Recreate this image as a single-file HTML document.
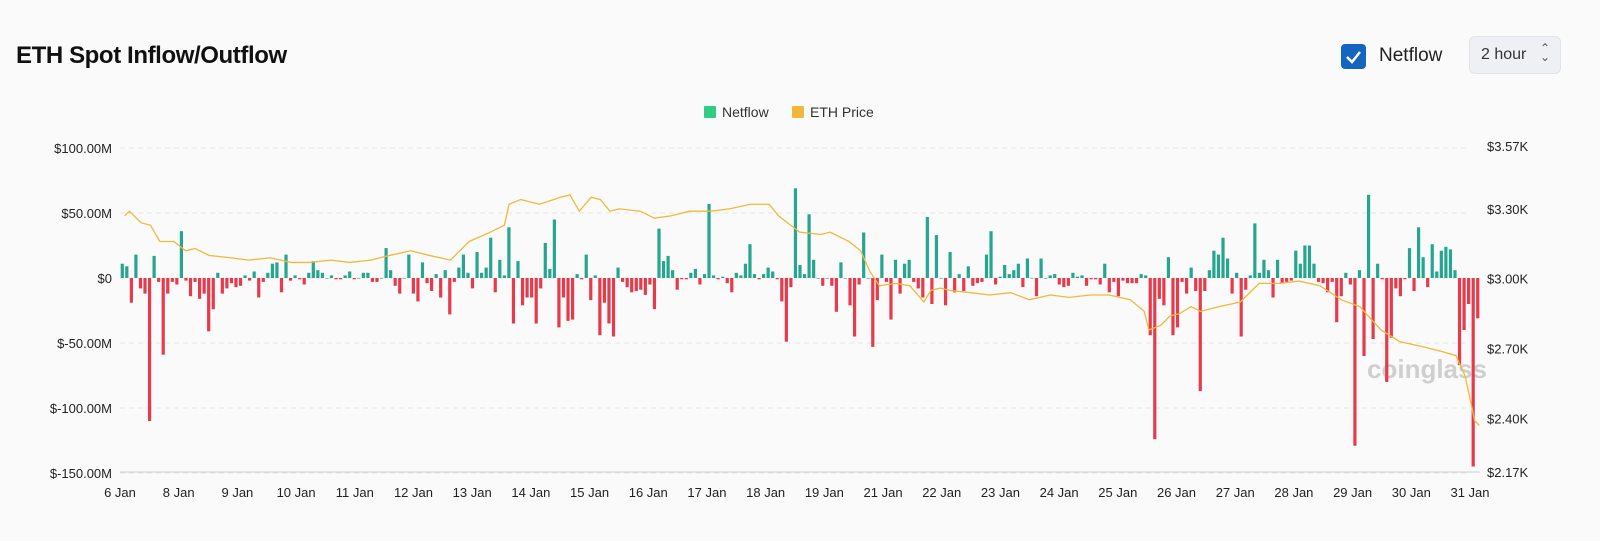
<!DOCTYPE html>
<html><head><meta charset="utf-8"><style>
body{margin:0;width:1600px;height:541px;background:#fafafa;font-family:"Liberation Sans",sans-serif;overflow:hidden;position:relative}
.title{position:absolute;left:16px;top:42px;font-size:24px;font-weight:bold;color:#111;letter-spacing:-0.4px}
.cb{position:absolute;left:1341px;top:44px;width:25px;height:25px;background:#1565c0;border-radius:4px}
.nf{position:absolute;left:1379px;top:45px;font-size:19px;color:#222}
.sel{position:absolute;left:1469px;top:36px;width:92px;height:38px;background:#eef0f3;border:1px solid #e0e3e8;border-radius:6px;box-sizing:border-box;font-size:16px;color:#333;padding:9px 0 0 11px}
</style></head><body>
<div class="title">ETH Spot Inflow/Outflow</div>
<div class="cb"><svg width="25" height="25"><path d="M6 13 L11 18 L19 8" stroke="#fff" stroke-width="2.5" fill="none"/></svg></div>
<div class="nf">Netflow</div>
<div class="sel">2 hour <span style="position:absolute;left:70px;top:7px;font-size:12px;line-height:9px;color:#555">&#8963;<br>&#8964;</span></div>
<svg id="chart" width="1600" height="541" style="position:absolute;left:0;top:0"></svg>
<script>
const netflow=[11,9,-19,18,-8,-12,-110,17,-3,-59,-12,-3,-5,36,-2,-14,-3,-16,-12,-41,-24,4,-12,-8,-4,-7,-6,2,-2,5,-15,-3,4,11,12,-11,18,-2,2,-1,-5,4,13,6,4,0,2,-1,-1,2,5,-1,0,4,4,-3,-3,0,23,
6,-6,-12,0,18,-12,-18,12,-4,-10,3,-15,6,-28,-3,8,18,4,-8,20,4,8,31,-11,14,2,39,-35,13,-21,-15,-15,-35,-8,27,7,45,-38,-15,-33,-32,3,-1,18,-17,2,-44,-19,-35,-45,8,-3,-7,-11,-10,-9,-13,-5,-24,
38,13,17,6,-9,-1,-1,4,7,-5,3,57,2,-1,1,-4,-11,4,2,11,26,3,-1,3,8,5,-1,-18,-49,-7,69,10,3,49,14,0,-6,0,-6,-26,12,0,-21,-45,-5,35,0,-53,-17,18,-3,-32,14,-12,11,14,-3,-8,-15,47,
-20,33,0,-21,20,-11,3,-10,9,-6,-4,-3,18,36,-5,1,10,3,6,11,-7,15,0,-14,15,0,2,3,-5,-7,-6,4,1,2,-6,-1,-1,-5,11,-11,-3,-14,-2,-4,-4,-4,3,2,-44,-124,-16,-21,16,-44,-38,-3,-12,8,-10,
-87,-10,6,21,18,31,15,-12,4,-45,-9,2,42,4,14,6,-15,14,-4,-3,-2,21,11,25,25,11,-3,-4,-11,-3,-34,-14,4,-5,-129,6,-60,64,-47,11,-1,-80,-46,-8,-14,-1,23,-10,39,16,-7,26,5,21,24,22,6,-67,-40,-20,-145,-31];
const priceHour=[2,4,9,13,17,23,28,32,38,47,55,64,73,81,90,98,107,115,124,132,141,149,158,164,166,171,179,188,192,196,201,205,209,213,222,228,235,243,252,260,269,277,281,290,299,303,311,316,320,324,331,337,343,346,350,354,363,371,380,388,397,405,414,422,431,437,439,444,448,452,457,461,469,478,486,495,503,512,521,529,538,546,555,563,570,574,578,580];
const priceVal=[3.27,3.29,3.24,3.23,3.16,3.16,3.12,3.13,3.10,3.09,3.08,3.09,3.07,3.07,3.08,3.07,3.08,3.10,3.12,3.10,3.08,3.16,3.20,3.23,3.32,3.34,3.32,3.35,3.36,3.29,3.35,3.34,3.29,3.30,3.29,3.26,3.27,3.29,3.29,3.30,3.32,3.32,3.27,3.20,3.19,3.20,3.16,3.12,3.03,2.97,2.98,2.97,2.90,2.95,2.96,2.95,2.94,2.93,2.94,2.91,2.93,2.92,2.93,2.93,2.91,2.86,2.78,2.80,2.84,2.85,2.88,2.86,2.88,2.90,2.98,2.98,2.99,2.97,2.91,2.88,2.78,2.73,2.71,2.69,2.67,2.58,2.39,2.37];
const dateLabels=["6 Jan","8 Jan","9 Jan","10 Jan","11 Jan","12 Jan","13 Jan","14 Jan","15 Jan","16 Jan","17 Jan","18 Jan","19 Jan","21 Jan","22 Jan","23 Jan","24 Jan","25 Jan","26 Jan","27 Jan","28 Jan","29 Jan","30 Jan","31 Jan"];
const leftTicks=[100,50,0,-50,-100,-150];
const leftTickLabels=["$100.00M","$50.00M","$0","$-50.00M","$-100.00M","$-150.00M"];
const rightTicks=[3.57,3.30,3.00,2.70,2.40,2.17];
const rightTickLabels=["$3.57K","$3.30K","$3.00K","$2.70K","$2.40K","$2.17K"];

const NS="http://www.w3.org/2000/svg",svg=document.getElementById('chart');
const X0=120,X1=1470,BX1=1480,Y0=278;
const yL=v=>Y0-v*1.3;
const yR=p=>472-(p-2.17)*(326/1.4);
const xH=h=>X0+h*56.25/24;
function mk(t,a){const e=document.createElementNS(NS,t);for(const k in a)e.setAttribute(k,a[k]);svg.appendChild(e);return e;}
leftTicks.forEach((v,i)=>{
  const g=mk('line',{x1:X0,x2:X1,y1:yL(v),y2:yL(v),stroke:'#e6e6e6','stroke-dasharray':'5,4'});
  
  
  const t=mk('text',{x:112,y:yL(v)+5,'text-anchor':'end','font-size':13,fill:'#222'});t.textContent=leftTickLabels[i];
  
  
});
rightTicks.forEach((p,i)=>{
  const t=mk('text',{x:1487,y:yR(p)+5,'font-size':13,fill:'#222'});t.textContent=rightTickLabels[i];
  
  
});
const ax=mk('line',{x1:X0,x2:X1+10,y1:472,y2:472,stroke:'#ccc'});


dateLabels.forEach((d,i)=>{
  const x=X0+i*(X1-X0)/(dateLabels.length-1);
  const t=mk('text',{x:x,y:497,'text-anchor':'middle','font-size':13,fill:'#222'});t.textContent=d;
  
  
});
const wm=mk('text',{x:1367,y:378,'font-size':26,fill:'#cfcfcf','font-weight':'bold'});wm.textContent='coinglass';


const band=(BX1-X0)/netflow.length;
netflow.forEach((v,i)=>{
  const x=X0+i*band+band*0.5-1.6;
  const y=Math.min(yL(v),Y0),h=Math.max(Math.abs(yL(v)-Y0),0.6);
  const r=mk('rect',{x:x,y:y,width:3.2,height:h,fill:v>=0?'#26a68f':'#e63b4c'});
  
  
});
const pl=mk('polyline',{points:priceHour.map((h,i)=>xH(h)+','+yR(priceVal[i])).join(' '),fill:'none',stroke:'#f0b93c','stroke-width':1.3});


const l1=mk('rect',{x:704,y:106,width:12,height:12,fill:'#2ecc85',rx:1});


const l1t=mk('text',{x:722,y:117,'font-size':14,fill:'#333'});l1t.textContent='Netflow';


const l2=mk('rect',{x:792,y:106,width:12,height:12,fill:'#f0b93c',rx:1});


const l2t=mk('text',{x:810,y:117,'font-size':14,fill:'#333'});l2t.textContent='ETH Price';


</script>
</body></html>
